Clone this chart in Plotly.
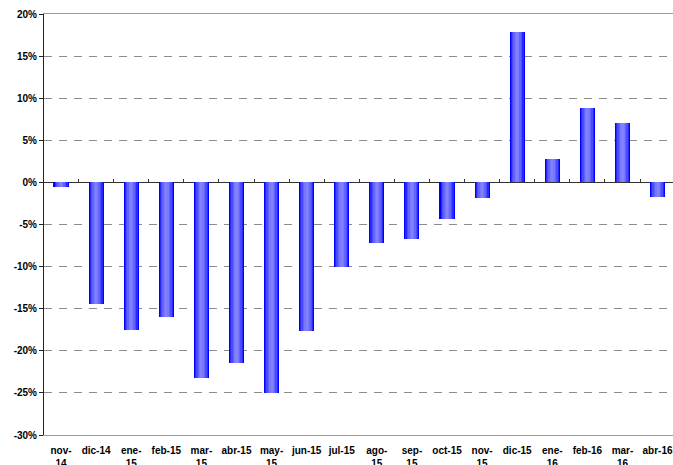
import plotly.graph_objects as go

categories = ["nov-<br>14", "dic-14", "ene-<br>15", "feb-15", "mar-<br>15", "abr-15",
              "may-<br>15", "jun-15", "jul-15", "ago-<br>15", "sep-<br>15", "oct-15",
              "nov-<br>15", "dic-15", "ene-<br>16", "feb-16", "mar-<br>16", "abr-16"]
values = [-0.5, -14.5, -17.5, -16.0, -23.2, -21.4, -25.0, -17.7, -10.1, -7.2,
          -6.7, -4.3, -1.8, 17.85, 2.73, 8.8, 7.04, -1.75]
y_tickvals = [-30, -25, -20, -15, -10, -5, 0, 5, 10, 15, 20]
y_ticktext = ["-30%", "-25%", "-20%", "-15%", "-10%", "-5%", "0%", "5%", "10%", "15%", "20%"]

# layered bars to imitate the horizontal gradient fill
layers = [(0.43, "#0000FF"), (0.37, "#2828FF"), (0.30, "#4A4AFF"),
          (0.22, "#6464FF"), (0.13, "#7878FF"), (0.06, "#8282FF")]

fig = go.Figure()
for w, c in layers:
    fig.add_trace(go.Bar(x=categories, y=values, width=w, marker=dict(color=c, line=dict(width=0)),
                         showlegend=False, hoverinfo="skip"))

# invisible trace to carry the category-boundary ticks on the zero line
fig.add_trace(go.Scatter(x=categories, y=[None] * len(categories), xaxis="x2",
                         showlegend=False, hoverinfo="skip"))

tf = dict(family="Liberation Sans, Arial, sans-serif", size=10, color="#000", weight="bold")
x_range = [-0.485, 17.44]

fig.update_layout(
    width=673, height=465,
    margin=dict(l=44, r=0, t=14, b=30),
    paper_bgcolor="white", plot_bgcolor="white",
    barmode="overlay", bargap=0,
    font=dict(family="Liberation Sans, Arial, sans-serif", size=10, color="#000"),
    xaxis=dict(type="category", categoryorder="array", categoryarray=categories,
               range=x_range, showgrid=False, showline=True, mirror=True,
               linecolor="#9a9a9a", linewidth=1, ticks="", zeroline=False,
               automargin=False, ticklabelstandoff=6, tickfont=tf),
    xaxis2=dict(type="category", categoryorder="array", categoryarray=categories,
                range=x_range, overlaying="x", anchor="free", position=0.6,
                showgrid=False, showline=False, showticklabels=False, zeroline=False,
                automargin=False,
                ticks="inside", ticklen=3, tickcolor="#333", tickwidth=1, tickson="boundaries"),
    yaxis=dict(range=[-30, 20], tickvals=y_tickvals, ticktext=y_ticktext,
               showgrid=True, gridcolor="#8c8c8c", griddash="8px,7px", gridwidth=1,
               zeroline=True, zerolinecolor="#333", zerolinewidth=1,
               showline=True, linecolor="#222", linewidth=1,
               ticks="outside", ticklen=4, tickcolor="#222",
               automargin=False, tickfont=tf),
)

# remove the default page margin so the figure fills the window exactly
fig.write_html("out.html", config={"displayModeBar": False},
               post_script="document.body.style.margin='0';document.body.style.overflow='hidden';")
